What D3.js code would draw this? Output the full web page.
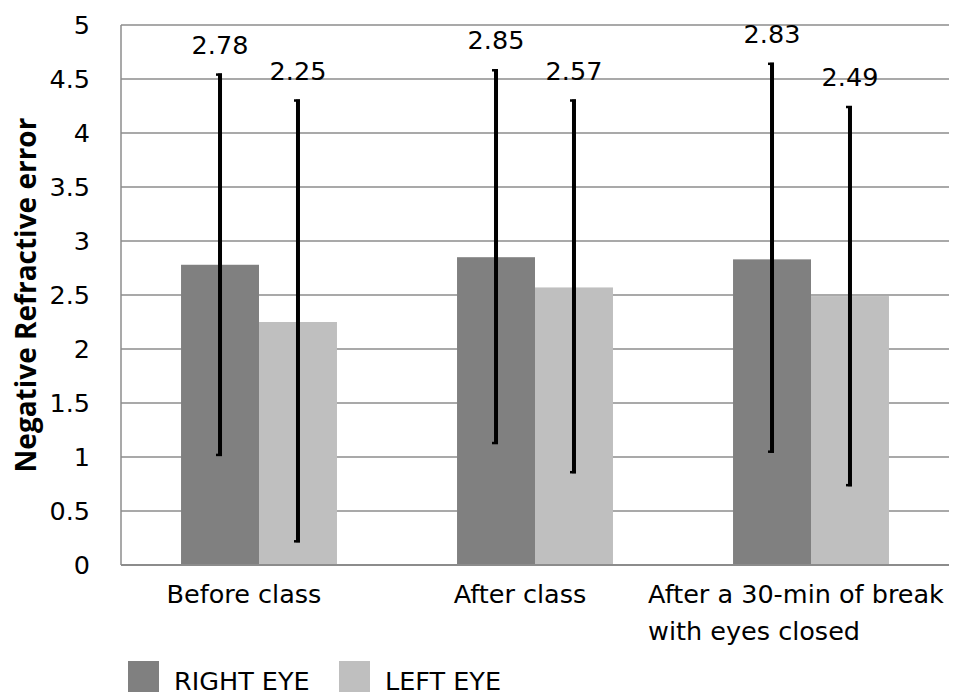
<!DOCTYPE html>
<html>
<head>
<meta charset="utf-8">
<script src="https://cdn.jsdelivr.net/npm/d3@7"></script>
<style>
  html, body { margin: 0; padding: 0; background: #fff; }
  svg { display: block; font-family: "DejaVu Sans", sans-serif; }
</style>
</head>
<body>
<div id="chart"></div>
<script>
// Values
const categories = ['Before class', 'After class', 'After a 30-min of break|with eyes closed'];
const series = ['RIGHT EYE', 'LEFT EYE'];
const rightEye = [2.78, 2.85, 2.83];
const leftEye = [2.25, 2.57, 2.49];
const rightHigh = [4.55, 4.59, 4.65];
const rightLow = [1.01, 1.12, 1.04];
const leftHigh = [4.31, 4.31, 4.25];
const leftLow = [0.21, 0.85, 0.73];
const yTicks = [0, 0.5, 1, 1.5, 2, 2.5, 3, 3.5, 4, 4.5, 5];

const colors = { 'RIGHT EYE': '#808080', 'LEFT EYE': '#bfbfbf' };

const width = 960, height = 696;
const margin = { top: 25, right: 11, bottom: 131, left: 121 };
const fontSize = 25.5;

const rows = categories.map((c, i) => ({
  category: c,
  values: [
    { key: 'RIGHT EYE', value: rightEye[i], hi: rightHigh[i], lo: rightLow[i] },
    { key: 'LEFT EYE', value: leftEye[i], hi: leftHigh[i], lo: leftLow[i] }
  ]
}));

const svg = d3.select('#chart').append('svg')
  .attr('width', width)
  .attr('height', height);

const x = d3.scaleBand()
  .domain(categories)
  .range([margin.left, width - margin.right])
  .paddingInner(0.435)
  .paddingOuter(0.2175);

const xs = d3.scaleBand()
  .domain(series)
  .range([0, x.bandwidth()]);

const y = d3.scaleLinear()
  .domain([0, 5])
  .range([height - margin.bottom, margin.top]);

// gridlines
svg.append('g')
  .selectAll('line')
  .data(yTicks)
  .join('line')
  .attr('x1', margin.left)
  .attr('x2', width - margin.right)
  .attr('y1', d => y(d))
  .attr('y2', d => y(d))
  .attr('stroke', '#8c8c8c')
  .attr('stroke-width', 1.5);

// left axis line
svg.append('line')
  .attr('x1', margin.left).attr('x2', margin.left)
  .attr('y1', y(0)).attr('y2', y(5))
  .attr('stroke', '#8c8c8c')
  .attr('stroke-width', 1.5);

// y tick labels
const yAxis = d3.axisLeft(y).tickValues(yTicks).tickSize(0).tickPadding(31).tickFormat(d => String(d));
svg.append('g')
  .attr('transform', `translate(${margin.left},0)`)
  .call(yAxis)
  .call(g => g.select('.domain').remove())
  .selectAll('text')
  .attr('font-size', fontSize)
  .attr('font-family', '"DejaVu Sans", sans-serif')
  .attr('fill', '#000');

// bars
const groups = svg.append('g')
  .selectAll('g')
  .data(rows)
  .join('g')
  .attr('transform', d => `translate(${x(d.category)},0)`);

groups.selectAll('rect')
  .data(d => d.values)
  .join('rect')
  .attr('x', d => xs(d.key))
  .attr('width', xs.bandwidth())
  .attr('y', d => y(d.value))
  .attr('height', d => y(0) - y(d.value))
  .attr('fill', d => colors[d.key]);

// error bars
const err = groups.selectAll('g.err')
  .data(d => d.values)
  .join('g')
  .attr('class', 'err')
  .attr('transform', d => `translate(${xs(d.key) + xs.bandwidth() / 2},0)`);

err.append('line')
  .attr('x1', 0).attr('x2', 0)
  .attr('y1', d => y(d.hi)).attr('y2', d => y(d.lo))
  .attr('stroke', '#000')
  .attr('stroke-width', 4);

err.append('line')
  .attr('x1', -4).attr('x2', 2)
  .attr('y1', d => y(d.hi) + 1).attr('y2', d => y(d.hi) + 1)
  .attr('stroke', '#000')
  .attr('stroke-width', 2.5);

err.append('line')
  .attr('x1', -4).attr('x2', 2)
  .attr('y1', d => y(d.lo) - 1).attr('y2', d => y(d.lo) - 1)
  .attr('stroke', '#000')
  .attr('stroke-width', 2.5);

// value labels above error bars
err.append('text')
  .attr('x', 0)
  .attr('y', d => y(d.hi) - 20)
  .attr('text-anchor', 'middle')
  .attr('font-size', fontSize)
  .attr('fill', '#000')
  .text(d => d.value.toFixed(2));

// bottom axis line
svg.append('line')
  .attr('x1', margin.left).attr('x2', width - margin.right)
  .attr('y1', y(0)).attr('y2', y(0))
  .attr('stroke', '#8c8c8c')
  .attr('stroke-width', 2);

// category labels
svg.append('g')
  .selectAll('text')
  .data(categories)
  .join('text')
  .attr('font-size', fontSize)
  .attr('fill', '#000')
  .each(function (d) {
    const t = d3.select(this);
    const lines = d.split('|');
    const cx = x(d) + x.bandwidth() / 2 - 15;
    lines.forEach((ln, i) => {
      t.append('tspan').attr('y', 603 + i * 37).text(ln);
    });
    const first = t.select('tspan').node();
    const w = first.getComputedTextLength();
    const startX = Math.min(cx - w / 2, width - 6 - w);
    t.selectAll('tspan').attr('x', startX);
  });

// y axis title
svg.append('text')
  .attr('transform', `translate(36,${(y(0) + y(5)) / 2}) rotate(-90)`)
  .attr('text-anchor', 'middle')
  .attr('font-family', '"Open Sans", sans-serif')
  .attr('font-size', 28)
  .attr('font-weight', 'bold')
  .attr('fill', '#000')
  .text('Negative Refractive error');

// legend
const legendX = [128, 339];
const legend = svg.append('g')
  .selectAll('g')
  .data(series)
  .join('g')
  .attr('transform', (d, i) => `translate(${legendX[i]},661)`);

legend.append('rect')
  .attr('width', 31)
  .attr('height', 31)
  .attr('fill', d => colors[d]);

legend.append('text')
  .attr('x', 46)
  .attr('y', 29)
  .attr('font-size', fontSize)
  .attr('fill', '#000')
  .text(d => d);
</script>
</body>
</html>
